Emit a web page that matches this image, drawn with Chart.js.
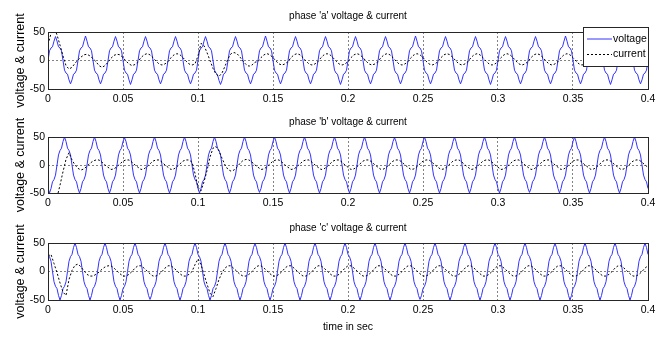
<!DOCTYPE html>
<html>
<head>
<meta charset="utf-8">
<script src="https://cdn.jsdelivr.net/npm/chart.js@4.4.0/dist/chart.umd.min.js"></script>
<style>
  html, body { margin: 0; padding: 0; background: #fff; }
  #wrap { position: relative; width: 667px; height: 337px; }
  canvas { position: absolute; left: 0; top: 0; }
</style>
</head>
<body>
<div id="wrap">
  <canvas id="pa" width="667" height="337"></canvas>
  <canvas id="pb" width="667" height="337"></canvas>
  <canvas id="pc" width="667" height="337"></canvas>
</div>
<script>
// sample times (s): voltage every 1 ms, current every 2 ms
const tV = Array.from({ length: 401 }, (_, i) => i / 1000);
const tI = Array.from({ length: 201 }, (_, i) => i / 500);

const xTicks = [0, 0.05, 0.1, 0.15, 0.2, 0.25, 0.3, 0.35, 0.4];
const yTicks = [-50, 0, 50];

const titles = ["phase 'a' voltage & current", "phase 'b' voltage & current", "phase 'c' voltage & current"];
const seriesNames = ['voltage', 'current'];

// phase a voltage (one row = one 20 ms cycle)
const vA = [
  0, 17, 22, 24, 34, 42, 34, 24, 22, 17, 0, -17, -22, -24, -34, -41, -34, -24, -22, -17,
  0, 17, 22, 24, 34, 43, 34, 24, 22, 17, 0, -17, -22, -24, -34, -41, -34, -24, -22, -17,
  0, 17, 22, 24, 34, 42, 34, 24, 22, 17, 0, -17, -22, -24, -34, -42, -34, -24, -22, -17,
  0, 17, 22, 24, 34, 42, 34, 24, 22, 17, 0, -17, -22, -24, -34, -41, -34, -24, -22, -17,
  0, 17, 22, 24, 34, 42, 34, 24, 22, 17, 0, -17, -22, -24, -34, -41, -34, -24, -22, -17,
  0, 17, 22, 24, 34, 42, 34, 24, 22, 17, 0, -17, -22, -25, -35, -42, -35, -24, -22, -17,
  0, 17, 22, 24, 34, 42, 34, 24, 22, 17, 0, -17, -22, -24, -34, -41, -34, -24, -22, -17,
  0, 17, 22, 24, 34, 43, 34, 24, 22, 17, 0, -17, -22, -24, -34, -41, -34, -24, -22, -17,
  0, 17, 22, 24, 34, 42, 34, 24, 22, 17, 0, -17, -22, -24, -34, -41, -34, -24, -22, -17,
  0, 17, 22, 24, 34, 42, 34, 24, 22, 17, 0, -17, -22, -24, -34, -42, -34, -24, -22, -17,
  0, 17, 22, 24, 34, 42, 34, 24, 22, 17, 0, -17, -22, -24, -34, -41, -34, -24, -22, -17,
  0, 17, 22, 24, 34, 42, 34, 24, 22, 17, 0, -17, -22, -24, -34, -41, -34, -24, -22, -17,
  0, 17, 22, 24, 34, 43, 34, 24, 22, 17, 0, -17, -22, -24, -34, -41, -34, -24, -22, -17,
  0, 17, 22, 24, 34, 42, 34, 24, 22, 17, 0, -17, -22, -24, -34, -41, -34, -24, -22, -17,
  0, 17, 22, 24, 34, 42, 34, 24, 22, 17, 0, -17, -22, -24, -34, -42, -34, -24, -22, -17,
  0, 17, 22, 24, 34, 42, 34, 24, 22, 17, 0, -17, -22, -24, -34, -41, -34, -24, -22, -17,
  0, 17, 22, 24, 34, 42, 34, 24, 22, 17, 0, -17, -22, -24, -34, -41, -34, -24, -22, -17,
  0, 17, 22, 24, 34, 43, 34, 24, 22, 17, 0, -17, -22, -24, -34, -41, -34, -24, -22, -17,
  0, 17, 22, 24, 34, 42, 34, 24, 22, 17, 0, -17, -22, -24, -34, -42, -34, -24, -22, -17,
  0, 17, 22, 24, 34, 42, 34, 24, 22, 17, 0, -17, -22, -24, -34, -41, -34, -24, -22, -17,
  0
];

// phase b voltage
const vB = [
  -42, -50, -42, -30, -26, -18, 0, 18, 26, 30, 42, 50, 42, 30, 26, 18, 0, -18, -26, -30,
  -42, -50, -42, -30, -26, -18, 0, 18, 26, 30, 42, 50, 42, 30, 26, 18, 0, -18, -26, -30,
  -42, -50, -42, -30, -26, -18, 0, 18, 26, 30, 42, 49, 42, 30, 26, 18, 0, -18, -26, -30,
  -42, -50, -42, -30, -26, -18, 0, 18, 26, 30, 42, 50, 42, 30, 26, 18, 0, -18, -26, -30,
  -42, -50, -42, -30, -26, -18, 0, 18, 26, 30, 42, 50, 42, 30, 26, 18, 0, -18, -26, -30,
  -42, -50, -42, -30, -26, -18, 0, 18, 26, 30, 42, 50, 42, 30, 26, 18, 0, -18, -26, -30,
  -42, -50, -42, -30, -26, -18, 0, 18, 26, 30, 42, 50, 42, 30, 26, 18, 0, -18, -26, -30,
  -42, -49, -42, -30, -26, -18, 0, 18, 26, 30, 42, 50, 42, 30, 26, 18, 0, -18, -26, -30,
  -42, -50, -42, -30, -26, -18, 0, 18, 26, 30, 42, 50, 42, 30, 26, 18, 0, -18, -26, -30,
  -42, -50, -42, -30, -26, -18, 0, 18, 26, 30, 42, 50, 42, 30, 26, 18, 0, -18, -26, -30,
  -42, -50, -42, -30, -26, -18, 0, 18, 26, 30, 42, 50, 42, 30, 26, 18, 0, -18, -26, -30,
  -42, -50, -42, -30, -26, -18, 0, 18, 26, 30, 42, 49, 42, 30, 26, 18, 0, -18, -26, -30,
  -42, -50, -42, -30, -26, -18, 0, 18, 26, 30, 42, 50, 42, 30, 26, 18, 0, -18, -26, -30,
  -42, -50, -42, -30, -26, -18, 0, 18, 26, 30, 42, 50, 42, 30, 26, 18, 0, -18, -26, -30,
  -42, -50, -42, -30, -26, -18, 0, 18, 26, 30, 42, 50, 42, 30, 26, 18, 0, -18, -26, -30,
  -42, -50, -42, -30, -26, -18, 0, 18, 26, 30, 42, 50, 42, 30, 26, 18, 0, -18, -26, -30,
  -42, -49, -42, -30, -26, -18, 0, 18, 26, 30, 42, 50, 42, 30, 26, 18, 0, -18, -26, -30,
  -42, -50, -42, -30, -26, -18, 0, 18, 26, 30, 42, 50, 42, 30, 26, 18, 0, -18, -26, -30,
  -42, -50, -42, -30, -26, -18, 0, 18, 26, 30, 42, 50, 42, 30, 26, 18, 0, -18, -26, -30,
  -42, -50, -42, -30, -26, -18, 0, 18, 26, 30, 42, 50, 42, 30, 26, 18, 0, -18, -26, -30,
  -42
];

// phase c voltage
const vC = [
  30, 26, 18, 0, -18, -26, -30, -42, -50, -42, -30, -26, -18, 0, 18, 26, 30, 42, 50, 42,
  30, 26, 18, 0, -18, -26, -30, -42, -50, -42, -30, -26, -18, 0, 18, 26, 30, 42, 50, 42,
  30, 26, 18, 0, -18, -26, -30, -42, -50, -42, -30, -26, -18, 0, 18, 26, 30, 42, 50, 42,
  30, 26, 18, 0, -18, -26, -30, -42, -49, -42, -30, -26, -18, 0, 18, 26, 30, 42, 50, 42,
  30, 26, 18, 0, -18, -26, -30, -42, -50, -42, -30, -26, -18, 0, 18, 26, 30, 42, 50, 42,
  30, 26, 18, 0, -18, -26, -30, -42, -50, -42, -30, -26, -18, 0, 18, 26, 30, 42, 50, 42,
  30, 26, 18, 0, -18, -26, -30, -42, -50, -42, -30, -26, -18, 0, 18, 26, 30, 42, 49, 42,
  30, 26, 18, 0, -18, -26, -30, -42, -50, -42, -30, -26, -18, 0, 18, 26, 30, 42, 50, 42,
  30, 26, 18, 0, -18, -26, -30, -42, -50, -42, -30, -26, -18, 0, 18, 26, 30, 42, 50, 42,
  30, 26, 18, 0, -18, -26, -30, -42, -50, -42, -30, -26, -18, 0, 18, 26, 30, 42, 50, 42,
  30, 26, 18, 0, -18, -26, -30, -42, -50, -42, -30, -26, -18, 0, 18, 26, 30, 42, 50, 42,
  30, 26, 18, 0, -18, -26, -30, -42, -50, -42, -30, -26, -18, 0, 18, 26, 30, 42, 50, 42,
  30, 26, 18, 0, -18, -26, -30, -42, -49, -42, -30, -26, -18, 0, 18, 26, 30, 42, 50, 42,
  30, 26, 18, 0, -18, -26, -30, -42, -50, -42, -30, -26, -18, 0, 18, 26, 30, 42, 50, 42,
  30, 26, 18, 0, -18, -26, -30, -42, -50, -42, -30, -26, -18, 0, 18, 26, 30, 42, 50, 42,
  30, 26, 18, 0, -18, -26, -30, -42, -50, -42, -30, -26, -18, 0, 18, 26, 30, 42, 50, 42,
  30, 26, 18, 0, -18, -26, -30, -42, -50, -42, -30, -26, -18, 0, 18, 26, 30, 42, 49, 42,
  30, 26, 18, 0, -18, -26, -30, -42, -50, -42, -30, -26, -18, 0, 18, 26, 30, 42, 50, 42,
  30, 26, 18, 0, -18, -26, -30, -42, -50, -42, -30, -26, -18, 0, 18, 26, 30, 42, 50, 42,
  30, 26, 18, 0, -18, -26, -30, -42, -50, -42, -30, -26, -18, 0, 18, 26, 30, 42, 50, 42,
  30
];

// currents, one row = 20 ms (10 samples)
const iA = [
  28, 47, 58, 45, 27, 8, -9, -15, -12, -5,
  1, 6, 10, 11, 8, 3, -2, -9, -12, -9,
  -3, 4, 9, 11, 10, 5, -1, -6, -9, -7,
  -2, 5, 10, 12, 10, 5, -1, -6, -8, -6,
  -2, 5, 10, 12, 10, 5, -1, -6, -8, -6,
  8, 30, 26, 14, 0, -14, -24, -28, -22, -10,
  3, 12, 14, 12, 6, -1, -7, -10, -8, -3,
  -2, 5, 10, 12, 10, 5, -1, -6, -8, -6,
  -2, 5, 10, 12, 10, 5, -1, -6, -8, -6,
  -2, 5, 10, 12, 10, 5, -1, -6, -8, -6,
  -2, 5, 10, 12, 10, 5, -1, -6, -8, -6,
  -2, 5, 10, 12, 10, 5, -1, -6, -8, -6,
  -2, 5, 10, 12, 10, 5, -1, -6, -8, -6,
  -2, 5, 10, 12, 10, 5, -1, -6, -8, -6,
  -2, 5, 10, 12, 10, 5, -1, -6, -8, -6,
  -2, 5, 10, 12, 10, 5, -1, -6, -8, -6,
  -2, 5, 10, 12, 10, 5, -1, -6, -8, -6,
  -2, 5, 10, 12, 10, 5, -1, -6, -8, -6,
  -2, 5, 10, 12, 10, 5, -1, -6, -8, -6,
  -2, 5, 10, 12, 10, 5, -1, -6, -8, -6,
  -2
];

const iB = [
  -55, -75, -72, -58, -36, -12, 10, 22, 9, 0,
  -6, -9, -7, -2, 3, 7, 9, 9, 5, 0,
  -4, -8, -7, -3, 2, 7, 9, 9, 5, 0,
  -4, -8, -7, -3, 2, 7, 9, 9, 5, 0,
  -4, -8, -7, -3, 2, 7, 9, 9, 5, -15,
  -40, -46, -30, -10, 14, 30, 33, 25, 12, 0,
  -8, -11, -9, -4, 3, 8, 10, 9, 5, 0,
  -4, -8, -7, -3, 2, 7, 9, 9, 5, 0,
  -4, -8, -7, -3, 2, 7, 9, 9, 5, 0,
  -4, -8, -7, -3, 2, 7, 9, 9, 5, 0,
  -4, -8, -7, -3, 2, 7, 9, 9, 5, 0,
  -4, -8, -7, -3, 2, 7, 9, 9, 5, 0,
  -4, -8, -7, -3, 2, 7, 9, 9, 5, 0,
  -4, -8, -7, -3, 2, 7, 9, 9, 5, 0,
  -4, -8, -7, -3, 2, 7, 9, 9, 5, 0,
  -4, -8, -7, -3, 2, 7, 9, 9, 5, 0,
  -4, -8, -7, -3, 2, 7, 9, 9, 5, 0,
  -4, -8, -7, -3, 2, 7, 9, 9, 5, 0,
  -4, -8, -7, -3, 2, 7, 9, 9, 5, 0,
  -4, -8, -7, -3, 2, 7, 9, 9, 5, 0,
  -4
];

const iC = [
  27, 30, 14, -2, -20, -36, -42, -14, 2, 11,
  13, 8, 1, -5, -8, -8, -5, -1, 4, 8,
  10, 10, 6, 1, -4, -8, -8, -5, 0, 6,
  10, 10, 6, 1, -4, -8, -8, -5, 0, 6,
  10, 10, 6, 1, -4, -8, -8, -5, 0, 12,
  22, 12, -5, -22, -38, -44, -30, -14, -2, 6,
  10, 10, 5, 0, -5, -8, -8, -5, 0, 6,
  10, 10, 6, 1, -4, -8, -8, -5, 0, 6,
  10, 10, 6, 1, -4, -8, -8, -5, 0, 6,
  10, 10, 6, 1, -4, -8, -8, -5, 0, 6,
  10, 10, 6, 1, -4, -8, -8, -5, 0, 6,
  10, 10, 6, 1, -4, -8, -8, -5, 0, 6,
  10, 10, 6, 1, -4, -8, -8, -5, 0, 6,
  10, 10, 6, 1, -4, -8, -8, -5, 0, 6,
  10, 10, 6, 1, -4, -8, -8, -5, 0, 6,
  10, 10, 6, 1, -4, -8, -8, -5, 0, 6,
  10, 10, 6, 1, -4, -8, -8, -5, 0, 6,
  10, 10, 6, 1, -4, -8, -8, -5, 0, 6,
  10, 10, 6, 1, -4, -8, -8, -5, 0, 6,
  10, 10, 6, 1, -4, -8, -8, -5, 0, 6,
  10
];

const family = "'Liberation Sans', Arial, sans-serif";
const seriesColors = ['rgb(50,50,255)', '#000'];
const gridGray = 'rgb(130,130,130)';

// axes box, rotated y label and (optionally) a MATLAB-like legend
const matlabBox = {
  id: 'matlabBox',
  afterDraw(chart, args, opts) {
    const { ctx, chartArea: a } = chart;
    ctx.save();
    ctx.strokeStyle = '#262626';
    ctx.lineWidth = 1;
    ctx.setLineDash([]);
    ctx.strokeRect(Math.round(a.left) + 0.5, Math.round(a.top) + 0.5,
      Math.round(a.right - a.left), Math.round(a.bottom - a.top));

    ctx.fillStyle = '#000';
    ctx.font = '12.5px ' + family;
    ctx.save();
    ctx.translate(opts.labelX, (a.top + a.bottom) / 2);
    ctx.rotate(-Math.PI / 2);
    ctx.textAlign = 'center';
    ctx.textBaseline = 'middle';
    ctx.fillText(opts.yLabel, 0, 0);
    ctx.restore();

    if (opts.legend) {
      const L = opts.legend;
      ctx.fillStyle = '#fff';
      ctx.fillRect(L.x, L.y, L.w, L.h);
      ctx.strokeStyle = '#262626';
      ctx.strokeRect(L.x + 0.5, L.y + 0.5, L.w, L.h);
      ctx.font = '10.5px ' + family;
      chart.data.datasets.forEach((ds, k) => {
        const y = L.y + 12 + k * 15;
        ctx.strokeStyle = seriesColors[k];
        ctx.setLineDash(k === 1 ? [2, 2] : []);
        ctx.beginPath();
        ctx.moveTo(L.x + 4, y + (k === 1 ? 0.5 : 0));
        ctx.lineTo(L.x + 29, y + (k === 1 ? 0.5 : 0));
        ctx.stroke();
        ctx.setLineDash([]);
        ctx.fillStyle = '#000';
        ctx.textAlign = 'left';
        ctx.textBaseline = 'middle';
        ctx.fillText(ds.label, L.x + 30, y);
      });
    }
    ctx.restore();
  }
};

function pts(t, v) {
  return v.map((y, k) => ({ x: t[k], y: y }));
}

function makePlot(id, p) {
  const fs = 10.5;
  const lh = fs * 1.2;
  return new Chart(document.getElementById(id), {
    type: 'line',
    data: {
      datasets: [
        { label: seriesNames[0], data: pts(tV, p.v), borderColor: seriesColors[0], borderWidth: 1, order: 2 },
        { label: seriesNames[1], data: pts(tI, p.i), borderColor: seriesColors[1], borderWidth: 1, borderDash: [2, 2], order: 1 }
      ]
    },
    options: {
      responsive: false,
      animation: false,
      devicePixelRatio: 1,
      events: [],
      elements: { point: { radius: 0 }, line: { tension: 0 } },
      layout: { padding: { left: 0, right: 19, top: 0, bottom: 337 - p.bottom - p.axisH } },
      plugins: {
        legend: { display: false },
        tooltip: { enabled: false },
        title: {
          display: true,
          text: p.title,
          fullSize: false,
          color: '#000',
          font: { family: family, size: 10, weight: 'normal' },
          padding: { top: p.titleY - 6, bottom: p.top - p.titleY - 6 }
        },
        matlabBox: { labelX: 21, yLabel: 'voltage & current', legend: p.legend }
      },
      scales: {
        x: {
          type: 'linear',
          min: 0,
          max: 0.4,
          afterBuildTicks: s => { s.ticks = xTicks.map(v => ({ value: v })); },
          afterFit: s => { s.height = p.axisH; },
          ticks: { color: '#000', padding: 4, maxRotation: 0, font: { family: family, size: fs }, callback: v => String(v) },
          grid: {
            drawTicks: false,
            lineWidth: 1,
            color: c => (c.tick && c.tick.value > 0 && c.tick.value < 0.4) ? gridGray : 'rgba(0,0,0,0)'
          },
          border: { display: false, dash: [2, 2] },
          title: {
            display: !!p.xTitle,
            text: p.xTitle || '',
            color: '#000',
            font: { family: family, size: fs },
            padding: { top: 0, bottom: 10 - lh / 2 }
          }
        },
        y: {
          min: -50,
          max: 50,
          afterBuildTicks: s => { s.ticks = yTicks.map(v => ({ value: v })); },
          afterFit: s => { s.width = 48; },
          ticks: { color: '#000', padding: 3, font: { family: family, size: fs } },
          grid: {
            drawTicks: false,
            lineWidth: 1,
            color: c => (c.tick && c.tick.value === 0) ? gridGray : 'rgba(0,0,0,0)'
          },
          border: { display: false, dash: [2, 2] }
        }
      }
    },
    plugins: [matlabBox]
  });
}

makePlot('pa', { title: titles[0], titleY: 16.5, top: 32, bottom: 89, axisH: 21, v: vA, i: iA,
  legend: { x: 583, y: 27, w: 65, h: 39 } });
makePlot('pb', { title: titles[1], titleY: 122, top: 137, bottom: 193, axisH: 22, v: vB, i: iB });
makePlot('pc', { title: titles[2], titleY: 228, top: 243, bottom: 300, axisH: 37, v: vC, i: iC,
  xTitle: 'time in sec' });
</script>
</body>
</html>
